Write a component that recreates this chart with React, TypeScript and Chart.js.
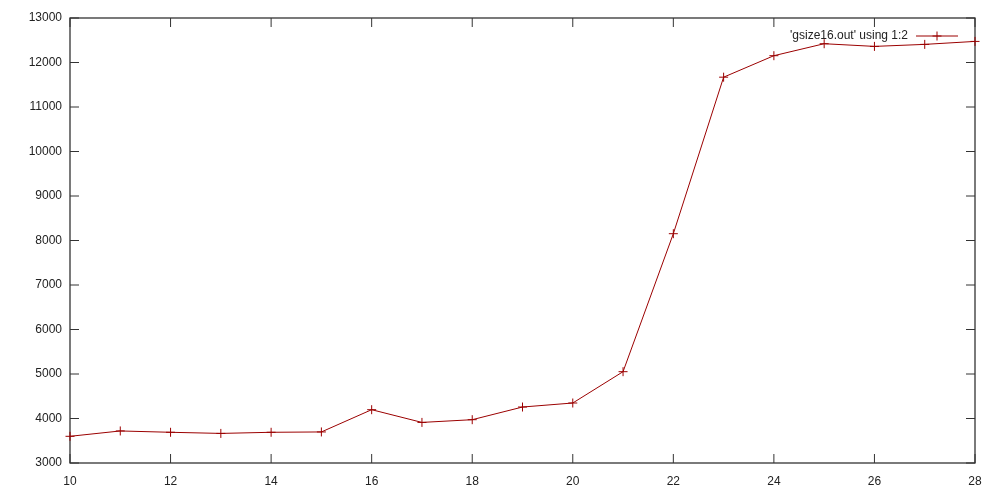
import { useEffect, useRef } from "react"
import { Chart, registerables } from "chart.js"
import type { Plugin } from "chart.js"

Chart.register(...registerables)

const xValues = [10, 11, 12, 13, 14, 15, 16, 17, 18, 19, 20, 21, 22, 23, 24, 25, 26, 27, 28]
const yValues = [
  3600, 3720, 3690, 3665, 3690, 3698, 4198, 3912, 3973, 4258, 4348, 5052, 8153, 11670, 12153, 12422, 12362, 12407,
  12474,
]
const seriesLabel = "'gsize16.out' using 1:2"
const xTicks = [10, 12, 14, 16, 18, 20, 22, 24, 26, 28]
const yTicks = [3000, 4000, 5000, 6000, 7000, 8000, 9000, 10000, 11000, 12000, 13000]

const LINE_COLOR = "#9b0000"
const AXIS_COLOR = "#333333"
const TEXT_COLOR = "#222222"
const FONT = "Liberation Sans, Arial, sans-serif"

// gnuplot-style frame with inward ticks on all four sides
const framePlugin: Plugin = {
  id: "frame",
  beforeDatasetsDraw(chart) {
    const { ctx, chartArea, scales } = chart
    const { left, right, top, bottom } = chartArea
    const len = 9
    ctx.save()
    ctx.strokeStyle = AXIS_COLOR
    ctx.lineWidth = 1.3
    ctx.strokeRect(left, top, right - left, bottom - top)
    ctx.lineWidth = 1
    ctx.beginPath()
    xTicks.forEach((v) => {
      const px = scales.x.getPixelForValue(v)
      ctx.moveTo(px, bottom)
      ctx.lineTo(px, bottom - len)
      ctx.moveTo(px, top)
      ctx.lineTo(px, top + len)
    })
    yTicks.forEach((v) => {
      const py = scales.y.getPixelForValue(v)
      ctx.moveTo(left, py)
      ctx.lineTo(left + len, py)
      ctx.moveTo(right, py)
      ctx.lineTo(right - len, py)
    })
    ctx.stroke()
    ctx.restore()
  },
}

// key in the top right corner: text, then line sample with a cross
const keyPlugin: Plugin = {
  id: "key",
  afterDraw(chart) {
    const { ctx, chartArea } = chart
    const y = chartArea.top + 18
    const sampleRight = chartArea.right - 17
    const sampleLeft = sampleRight - 42
    const mid = (sampleLeft + sampleRight) / 2
    ctx.save()
    ctx.font = `12px ${FONT}`
    ctx.fillStyle = TEXT_COLOR
    ctx.textAlign = "right"
    ctx.textBaseline = "middle"
    ctx.fillText(chart.data.datasets[0].label || "", sampleLeft - 8, y)
    ctx.strokeStyle = LINE_COLOR
    ctx.lineWidth = 1
    ctx.beginPath()
    ctx.moveTo(sampleLeft, y)
    ctx.lineTo(sampleRight, y)
    ctx.moveTo(mid - 4.5, y)
    ctx.lineTo(mid + 4.5, y)
    ctx.moveTo(mid, y - 4.5)
    ctx.lineTo(mid, y + 4.5)
    ctx.stroke()
    ctx.restore()
  },
}

export default function App() {
  const chartRef = useRef<HTMLCanvasElement>(null)
  const chartInstance = useRef<Chart | null>(null)

  useEffect(() => {
    if (!chartRef.current) return
    if (chartInstance.current) chartInstance.current.destroy()

    chartInstance.current = new Chart(chartRef.current, {
      type: "line",
      data: {
        datasets: [
          {
            label: seriesLabel,
            data: xValues.map((x, i) => ({ x, y: yValues[i] })),
            borderColor: LINE_COLOR,
            backgroundColor: LINE_COLOR,
            borderWidth: 1,
            pointStyle: "cross",
            pointRadius: 4.5,
            pointBorderWidth: 1,
            pointBorderColor: LINE_COLOR,
            tension: 0,
            clip: false,
          },
        ],
      },
      options: {
        responsive: true,
        maintainAspectRatio: false,
        animation: false,
        layout: { padding: { top: 18, right: 25, left: 0, bottom: 0 } },
        plugins: {
          legend: { display: false },
          tooltip: { enabled: false },
        },
        scales: {
          x: {
            type: "linear",
            min: 10,
            max: 28,
            afterBuildTicks: (scale) => {
              scale.ticks = xTicks.map((value) => ({ value }))
            },
            afterFit: (scale) => {
              scale.height = 37
            },
            grid: { display: false, drawTicks: false },
            border: { display: false },
            ticks: {
              padding: 11,
              color: TEXT_COLOR,
              font: { family: FONT, size: 12 },
              maxRotation: 0,
              callback: (value) => String(value),
            },
          },
          y: {
            type: "linear",
            min: 3000,
            max: 13000,
            afterBuildTicks: (scale) => {
              scale.ticks = yTicks.map((value) => ({ value }))
            },
            afterFit: (scale) => {
              scale.width = 70
            },
            grid: { display: false, drawTicks: false },
            border: { display: false },
            ticks: {
              padding: 8,
              color: TEXT_COLOR,
              font: { family: FONT, size: 12 },
              callback: (value) => String(value),
            },
          },
        },
      },
      plugins: [framePlugin, keyPlugin],
    })

    return () => {
      if (chartInstance.current) {
        chartInstance.current.destroy()
        chartInstance.current = null
      }
    }
  }, [])

  return (
    <div style={{ position: "fixed", left: 0, top: 0, width: 1000, height: 500, background: "#fff" }}>
      <canvas ref={chartRef} />
    </div>
  )
}
